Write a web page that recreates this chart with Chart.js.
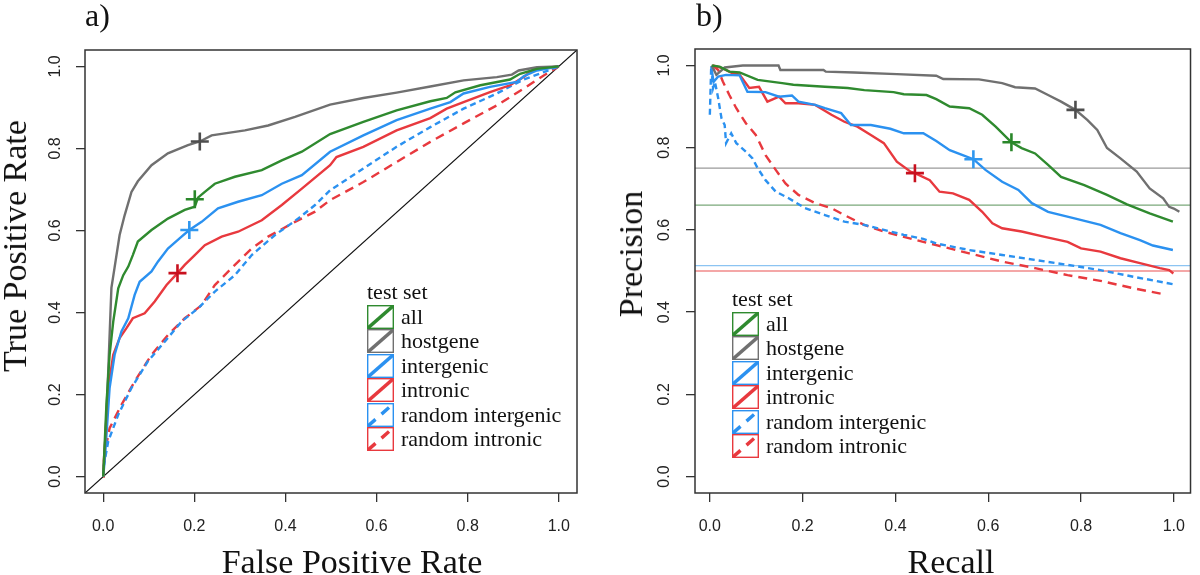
<!DOCTYPE html>
<html>
<head>
<meta charset="utf-8">
<script src="https://cdn.jsdelivr.net/npm/chart.js@4.4.1/dist/chart.umd.min.js"></script>
<style>
  html, body { margin: 0; padding: 0; background: #fff; overflow: hidden; }
  body { width: 1200px; height: 575px; position: relative; font-family: "Liberation Serif", "Times New Roman", serif; color: #111; }
  .panel { position: absolute; top: 0; width: 600px; height: 575px; }
  .tag { position: absolute; font-size: 32px; line-height: 1; }
  .xt { position: absolute; font-size: 34px; line-height: 1; white-space: nowrap; transform: translateX(-50%); }
  .yt { position: absolute; font-size: 34px; line-height: 1; white-space: nowrap; transform: translate(-50%, -50%) rotate(-90deg); }
  .legend { position: absolute; font-size: 22px; }
  .legend .row { display: flex; align-items: center; height: 24.5px; white-space: nowrap; }
  .legend svg { display: block; margin-right: 7px; }
</style>
</head>
<body>
<div class="panel" style="left:0"><canvas id="roc"></canvas></div>
<div class="panel" style="left:600px"><canvas id="pr"></canvas></div>

<div class="tag" style="left:85px;top:-1px">a)</div>
<div class="tag" style="left:696px;top:-1px">b)</div>
<div class="xt" style="left:352px;top:545px">False Positive Rate</div>
<div class="yt" style="left:15px;top:246px">True Positive Rate</div>
<div class="xt" style="left:951px;top:545px">Recall</div>
<div class="yt" style="left:631px;top:254px">Precision</div>
<div class="legend" id="legA" style="left:367px;top:280px"></div>
<div class="legend" id="legB" style="left:732px;top:287px"></div>

<script>
// ---- ROC curves (false positive rate, true positive rate) ----
const rocAll = [[0,0],[0.007,0.175],[0.014,0.297],[0.022,0.378],[0.033,0.459],[0.044,0.491],[0.055,0.512],[0.065,0.54],[0.076,0.573],[0.106,0.601],[0.142,0.629],[0.179,0.65],[0.201,0.658],[0.208,0.68],[0.223,0.694],[0.245,0.714],[0.289,0.731],[0.348,0.747],[0.392,0.771],[0.436,0.792],[0.498,0.835],[0.571,0.865],[0.644,0.893],[0.718,0.915],[0.754,0.923],[0.773,0.937],[0.828,0.954],[0.893,0.968],[0.915,0.982],[0.952,0.994],[1,1]];
const rocHost = [[0,0],[0.005,0.1],[0.011,0.256],[0.018,0.46],[0.025,0.51],[0.036,0.589],[0.047,0.637],[0.062,0.694],[0.076,0.72],[0.106,0.759],[0.142,0.788],[0.186,0.808],[0.212,0.817],[0.238,0.832],[0.311,0.844],[0.362,0.856],[0.421,0.877],[0.498,0.907],[0.571,0.923],[0.644,0.936],[0.718,0.951],[0.791,0.966],[0.864,0.974],[0.897,0.98],[0.912,0.99],[0.952,0.998],[1,1]];
const rocInter = [[0,0],[0.004,0.05],[0.014,0.216],[0.025,0.297],[0.04,0.354],[0.055,0.386],[0.069,0.443],[0.08,0.475],[0.106,0.5],[0.12,0.524],[0.142,0.556],[0.172,0.585],[0.189,0.601],[0.216,0.621],[0.252,0.654],[0.296,0.67],[0.348,0.686],[0.392,0.714],[0.436,0.735],[0.498,0.792],[0.571,0.832],[0.644,0.869],[0.718,0.897],[0.762,0.913],[0.791,0.934],[0.849,0.95],[0.908,0.962],[0.923,0.976],[0.952,0.99],[1,1]];
const rocIntron = [[0,0],[0.001,0.025],[0.011,0.216],[0.022,0.297],[0.036,0.338],[0.051,0.362],[0.065,0.386],[0.091,0.398],[0.113,0.427],[0.139,0.467],[0.163,0.496],[0.179,0.516],[0.201,0.54],[0.223,0.564],[0.26,0.585],[0.296,0.597],[0.348,0.625],[0.392,0.662],[0.436,0.702],[0.498,0.759],[0.512,0.779],[0.571,0.804],[0.644,0.844],[0.718,0.874],[0.754,0.897],[0.791,0.913],[0.849,0.937],[0.893,0.954],[0.923,0.974],[0.945,0.993],[1,1]];
const rocRandInter = [[0,0],[0.001,0.025],[0.011,0.086],[0.033,0.151],[0.062,0.216],[0.098,0.281],[0.135,0.329],[0.172,0.378],[0.208,0.41],[0.245,0.451],[0.289,0.491],[0.326,0.54],[0.377,0.589],[0.428,0.629],[0.465,0.662],[0.498,0.698],[0.571,0.751],[0.644,0.804],[0.718,0.852],[0.791,0.897],[0.864,0.934],[0.923,0.968],[0.967,0.986],[1,1]];
const rocRandIntron = [[0,0],[0.002,0.05],[0.014,0.118],[0.04,0.175],[0.069,0.232],[0.106,0.297],[0.142,0.345],[0.179,0.386],[0.216,0.418],[0.245,0.467],[0.289,0.516],[0.326,0.556],[0.362,0.585],[0.421,0.621],[0.465,0.646],[0.498,0.674],[0.571,0.718],[0.644,0.767],[0.718,0.816],[0.791,0.861],[0.864,0.905],[0.923,0.946],[0.967,0.978],[1,1]];
const rocCuts = [[0.201,0.676],[0.212,0.817],[0.189,0.601],[0.163,0.496]];
const rocDiag = [[-0.04,-0.04],[1.04,1.04]];

// ---- precision / recall curves (recall, precision) ----
const prAll = [[0.004,1.0],[0.021,0.997],[0.042,0.985],[0.064,0.983],[0.103,0.965],[0.156,0.957],[0.18,0.953],[0.248,0.948],[0.297,0.945],[0.333,0.94],[0.396,0.935],[0.418,0.93],[0.467,0.928],[0.488,0.918],[0.517,0.9],[0.559,0.896],[0.587,0.88],[0.616,0.851],[0.65,0.813],[0.672,0.799],[0.701,0.786],[0.729,0.758],[0.757,0.729],[0.807,0.709],[0.856,0.685],[0.899,0.662],[0.948,0.64],[0.998,0.62]];
const prHost = [[0.004,1.0],[0.014,0.977],[0.032,0.995],[0.071,1.0],[0.148,1.0],[0.152,0.989],[0.245,0.989],[0.25,0.985],[0.311,0.983],[0.403,0.979],[0.488,0.975],[0.503,0.967],[0.58,0.966],[0.63,0.957],[0.658,0.947],[0.701,0.944],[0.729,0.928],[0.757,0.912],[0.788,0.892],[0.814,0.867],[0.835,0.843],[0.856,0.799],[0.885,0.774],[0.92,0.742],[0.948,0.701],[0.977,0.677],[0.99,0.656],[1.0,0.652],[1.012,0.644]];
const prInter = [[0.004,0.99],[0.008,0.96],[0.018,0.973],[0.035,0.977],[0.064,0.976],[0.081,0.936],[0.12,0.935],[0.149,0.924],[0.177,0.927],[0.191,0.912],[0.227,0.904],[0.248,0.896],[0.283,0.884],[0.304,0.855],[0.347,0.855],[0.389,0.846],[0.418,0.835],[0.46,0.835],[0.488,0.816],[0.517,0.794],[0.545,0.782],[0.568,0.772],[0.594,0.746],[0.63,0.717],[0.665,0.697],[0.694,0.665],[0.729,0.644],[0.786,0.628],[0.842,0.612],[0.885,0.592],[0.927,0.575],[0.955,0.562],[0.998,0.551]];
const prIntron = [[0.006,1.0],[0.028,0.993],[0.049,0.981],[0.064,0.978],[0.085,0.945],[0.106,0.948],[0.124,0.912],[0.149,0.924],[0.163,0.908],[0.191,0.908],[0.227,0.904],[0.262,0.88],[0.29,0.863],[0.318,0.851],[0.347,0.831],[0.375,0.811],[0.403,0.766],[0.432,0.742],[0.442,0.738],[0.474,0.721],[0.495,0.693],[0.524,0.689],[0.559,0.673],[0.587,0.644],[0.609,0.616],[0.63,0.604],[0.672,0.596],[0.722,0.583],[0.771,0.571],[0.8,0.555],[0.842,0.547],[0.885,0.531],[0.927,0.519],[0.97,0.507],[0.99,0.502],[0.999,0.494]];
const prRandInter = [[0.0,0.88],[0.003,1.0],[0.007,0.945],[0.011,0.96],[0.018,0.92],[0.025,0.872],[0.032,0.855],[0.035,0.811],[0.046,0.835],[0.057,0.811],[0.078,0.79],[0.092,0.774],[0.103,0.75],[0.12,0.721],[0.142,0.693],[0.17,0.677],[0.205,0.653],[0.248,0.636],[0.29,0.62],[0.333,0.612],[0.375,0.6],[0.418,0.588],[0.46,0.578],[0.488,0.567],[0.559,0.551],[0.63,0.539],[0.701,0.527],[0.771,0.515],[0.842,0.502],[0.913,0.486],[0.998,0.468]];
const prRandIntron = [[0.006,1.0],[0.018,0.989],[0.028,0.961],[0.042,0.928],[0.057,0.896],[0.078,0.859],[0.099,0.831],[0.12,0.782],[0.142,0.746],[0.163,0.713],[0.191,0.685],[0.227,0.665],[0.262,0.653],[0.29,0.636],[0.333,0.612],[0.375,0.596],[0.418,0.583],[0.46,0.571],[0.488,0.563],[0.559,0.543],[0.63,0.523],[0.701,0.507],[0.771,0.49],[0.842,0.476],[0.913,0.458],[0.984,0.442]];
const prCuts = [[0.65,0.813],[0.788,0.892],[0.568,0.772],[0.442,0.738]];
const prBase = [0.66, 0.75, 0.513, 0.5]; // all, hostgene, intergenic, intronic

const axisTicks = [0, 0.2, 0.4, 0.6, 0.8, 1.0];

const SERIES = ["all", "hostgene", "intergenic", "intronic", "random intergenic", "random intronic"];
const COLORS = ["#2f8a2f", "#707070", "#2b91f0", "#e8393e", "#2b91f0", "#e8393e"];
const CUT_COLORS = ["#2a872a", "#4d4d4d", "#2f97ef", "#c8101e"];
const BASE_COLORS = ["#7aa87a", "#9a9a9a", "#8cc4f2", "#f08a8a"];
const DASHES = [[], [], [], [], [6, 4], [9, 6]];

const pts = (a) => a.map(([x, y]) => ({ x, y }));

const line = (data, i) => ({
  data: pts(data), borderColor: COLORS[i], borderWidth: 2.4, borderDash: DASHES[i],
  showLine: true, pointRadius: 0, fill: false,
});
const cross = (p, i) => ({
  data: pts([p]), pointStyle: "cross", pointRadius: 9, borderColor: CUT_COLORS[i],
  borderWidth: 2.6, showLine: false,
});
const hline = (y, color, lo, hi) => ({
  data: pts([[lo, y], [hi, y]]), borderColor: color, borderWidth: 1.3,
  showLine: true, pointRadius: 0, fill: false,
});

function axis(min, max, isY, size, pad) {
  return {
    type: "linear", min, max,
    afterBuildTicks: (s) => { s.ticks = axisTicks.map((v) => ({ value: v })); },
    afterFit: (s) => { if (isY) s.width = size; else s.height = size; },
    grid: { drawOnChartArea: false, tickLength: 9, color: "#333", lineWidth: 1.3 },
    border: { display: false },
    ticks: Object.assign(
      { color: "#222", font: { family: "Liberation Sans", size: 16 }, padding: pad,
        callback: (v) => Number(v).toFixed(1) },
      isY ? { minRotation: 90, maxRotation: 90, crossAlign: "center" } : { maxRotation: 0 }
    ),
  };
}

const frame = {
  id: "frame",
  afterDraw(c) {
    const { ctx, chartArea: a } = c;
    ctx.save();
    ctx.strokeStyle = "#333";
    ctx.lineWidth = 1.5;
    ctx.strokeRect(a.left, a.top, a.right - a.left, a.bottom - a.top);
    ctx.restore();
  },
};

function makeChart(id, datasets, x, y, padding) {
  return new Chart(document.getElementById(id), {
    type: "scatter",
    data: { datasets },
    options: {
      responsive: true, maintainAspectRatio: false, animation: false,
      layout: { padding, autoPadding: false },
      plugins: { legend: { display: false }, tooltip: { enabled: false } },
      scales: { x, y },
    },
    plugins: [frame],
  });
}

makeChart("roc",
  [
    ...rocCuts.map(cross),
    line(rocAll, 0), line(rocHost, 1), line(rocInter, 2), line(rocIntron, 3),
    line(rocRandInter, 4), line(rocRandIntron, 5),
    { data: pts(rocDiag), borderColor: "#111", borderWidth: 1.2, showLine: true, pointRadius: 0 },
  ],
  axis(-0.04, 1.04, false, 82, 15),
  axis(-0.04, 1.04, true, 85, 9.5),
  { top: 50, right: 23, left: 0, bottom: 0 }
);

makeChart("pr",
  [
    ...prCuts.map(cross),
    line(prAll, 0), line(prHost, 1), line(prInter, 2), line(prIntron, 3),
    line(prRandInter, 4), line(prRandIntron, 5),
    ...prBase.map((v, i) => hline(v, BASE_COLORS[i], -0.032, 1.036)),
  ],
  axis(-0.032, 1.036, false, 82, 15),
  axis(-0.04, 1.04, true, 95, 10),
  { top: 49, right: 2, left: 0, bottom: 0 }
);

function swatch(c, d) {
  const dash = d.length ? ` stroke-dasharray="10 8"` : "";
  return `<svg width="27" height="24" viewBox="0 0 27 24">` +
    `<rect x="0.7" y="0.7" width="25.6" height="22.6" fill="none" stroke="${c}" stroke-width="1.4"/>` +
    `<line x1="1" y1="23" x2="26" y2="1" stroke="${c}" stroke-width="3.4"${dash}/></svg>`;
}

function buildLegend(id) {
  document.getElementById(id).innerHTML =
    `<div class="row">test set</div>` +
    SERIES.map((s, i) => `<div class="row">${swatch(COLORS[i], DASHES[i])}<span>${s}</span></div>`).join("");
}
buildLegend("legA");
buildLegend("legB");
</script>
</body>
</html>
